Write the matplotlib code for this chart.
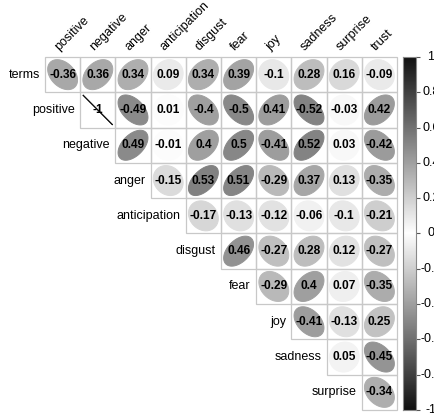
import numpy as np
import matplotlib
matplotlib.use("Agg")
import matplotlib.pyplot as plt
from matplotlib.colors import LinearSegmentedColormap
from matplotlib.patches import Polygon, Rectangle

plt.rcParams['font.family'] = ['Liberation Sans', 'DejaVu Sans']

# ---------------- data ----------------
row_labels = ["terms", "positive", "negative", "anger", "anticipation",
              "disgust", "fear", "joy", "sadness", "surprise"]
col_labels = ["positive", "negative", "anger", "anticipation", "disgust",
              "fear", "joy", "sadness", "surprise", "trust"]
terms_row = [-0.36, 0.36, 0.34, 0.09, 0.34, 0.39, -0.1, 0.28, 0.16, -0.09]
positive_row = [-1, -0.49, 0.01, -0.4, -0.5, 0.41, -0.52, -0.03, 0.42]
negative_row = [0.49, -0.01, 0.4, 0.5, -0.41, 0.52, 0.03, -0.42]
anger_row = [-0.15, 0.53, 0.51, -0.29, 0.37, 0.13, -0.35]
anticipation_row = [-0.17, -0.13, -0.12, -0.06, -0.1, -0.21]
disgust_row = [0.46, -0.27, 0.28, 0.12, -0.27]
fear_row = [-0.29, 0.4, 0.07, -0.35]
joy_row = [-0.41, -0.13, 0.25]
sadness_row = [0.05, -0.45]
surprise_row = [-0.34]
values = [terms_row, positive_row, negative_row, anger_row, anticipation_row,
          disgust_row, fear_row, joy_row, sadness_row, surprise_row]
cbar_ticks = [1, 0.8, 0.6, 0.4, 0.2, 0, -0.2, -0.4, -0.6, -0.8, -1]
cbar_labels = ["1", "0.8", "0.6", "0.4", "0.2", "0", "-0.2", "-0.4", "-0.6", "-0.8", "-1"]

# ---------------- figure ----------------
W, H = 434, 415
fig = plt.figure(figsize=(W / 100, H / 100), dpi=100)
fig.patch.set_facecolor('white')

cmap = LinearSegmentedColormap.from_list('bwb', ['#111111', 'white', '#111111'])
norm = plt.Normalize(-1, 1)

gx0, gx1, gy0, gy1 = 45, 397, 57, 410
ax = fig.add_axes([gx0 / W, 1 - gy1 / H, (gx1 - gx0) / W, (gy1 - gy0) / H])
ax.set_xlim(0, 10)
ax.set_ylim(10, 0)
ax.axis('off')

t = np.linspace(0, 2 * np.pi, 99)
for i, (rname, vals) in enumerate(zip(row_labels, values)):
    for k, v in enumerate(vals):
        j = i + k
        ax.add_patch(Rectangle((j, i), 1, 1, fill=False, edgecolor='#c8c8c8',
                               lw=0.9, zorder=1, clip_on=False))
        d = np.arccos(np.clip(v, -1, 1))
        ex = 0.85 * np.cos(t + d / 2) / 2
        ey = 0.85 * np.cos(t - d / 2) / 2
        col = cmap(norm(v))
        ax.add_patch(Polygon(np.column_stack([j + 0.5 + ex, i + 0.5 - ey]),
                             closed=True, facecolor=col, edgecolor=col,
                             lw=0.7, zorder=2))
        ax.text(j + 0.5, i + 0.5, f"{v:g}", ha='center', va='center',
                fontsize=8.6, fontweight='bold', color='black', zorder=3)
    ax.text(i - 0.15, i + 0.5, rname, ha='right', va='center', fontsize=9,
            color='black', clip_on=False)

for j, cname in enumerate(col_labels):
    ax.text(j + 0.45, -0.1, cname, rotation=45, ha='left', va='bottom',
            rotation_mode='anchor', fontsize=9, color='black', clip_on=False)

# ---------------- colour bar ----------------
cx0, cx1 = 403, 416
cax = fig.add_axes([cx0 / W, 1 - gy1 / H, (cx1 - cx0) / W, (gy1 - gy0) / H])
grad = np.linspace(1, -1, 256)[:, None]
cax.imshow(grad, cmap=cmap, norm=norm, aspect='auto', extent=[0, 1, -1, 1])
cax.set_xlim(0, 1)
cax.set_ylim(-1, 1)
cax.set_xticks([])
cax.yaxis.tick_right()
cax.set_yticks(cbar_ticks)
cax.tick_params(axis='y', length=3, width=0.8, color='#555555', labelright=False,
                labelleft=False)
for s in cax.spines.values():
    s.set_color('#888888')
    s.set_linewidth(0.8)
for v, lab in zip(cbar_ticks, cbar_labels):
    yf = (1 - gy1 / H) + (v + 1) / 2 * (gy1 - gy0) / H
    fig.text(431 / W, yf, lab, ha='center', va='center', fontsize=9, color='black')

fig.savefig("out.png", dpi=100)
